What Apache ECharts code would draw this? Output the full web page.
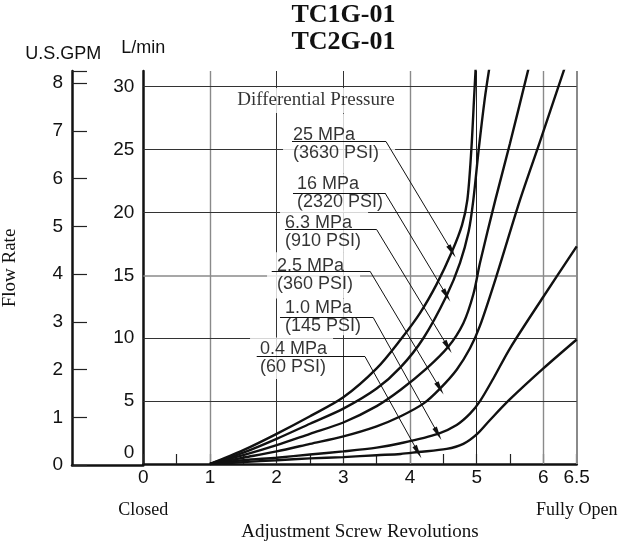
<!DOCTYPE html>
<html><head><meta charset="utf-8">
<script src="https://cdn.jsdelivr.net/npm/echarts@6/dist/echarts.min.js"></script>
<style>html,body{margin:0;padding:0;background:#fff}#c{width:621px;height:547px}</style>
</head><body><div id="c"></div>
<script>
// ---- data ----
const revTicks = [0, 1, 2, 3, 4, 5, 6, 6.5];          // Adjustment screw revolutions
const revEnds = ['Closed', 'Fully Open'];              // text under 0 and 6.5
const lminTicks = [0, 5, 10, 15, 20, 25, 30];          // L/min
const gpmTicks = [0, 1, 2, 3, 4, 5, 6, 7, 8];          // U.S.GPM
const pressureMPa = ['25 MPa', '16 MPa', '6.3 MPa', '2.5 MPa', '1.0 MPa', '0.4 MPa'];
const pressurePSI = ['(3630 PSI)', '(2320 PSI)', '(910 PSI)', '(360 PSI)', '(145 PSI)', '(60 PSI)'];

const flow25 = [[1,0],[1.5,1.1],[2,2.4],[2.5,3.8],[3,5.3],[3.5,7.6],[3.86,9.9],[4.15,12.0],[4.4,14.3],[4.63,16.9],[4.78,19.0],[4.86,21],[4.92,25],[4.96,29],[4.985,31.5]];
const flow16 = [[1,0],[1.5,0.9],[2,2.0],[2.5,3.2],[3,4.4],[3.5,6.0],[3.86,7.7],[4.2,10.0],[4.55,13.4],[4.75,16],[4.88,18.5],[4.95,21],[5.03,25],[5.12,29],[5.19,31.5]];
const flow6_3 = [[1,0],[1.5,0.7],[2,1.5],[2.5,2.4],[3,3.3],[3.5,4.6],[3.86,5.9],[4.25,7.6],[4.57,9.3],[4.8,11.2],[4.95,13.5],[5.05,16],[5.28,21],[5.5,25.5],[5.78,31.5]];
const flow2_5 = [[1,0],[1.5,0.5],[2,1.0],[2.5,1.6],[3,2.2],[3.5,3.0],[3.86,3.8],[4.2,4.8],[4.45,6.0],[4.7,7.5],[4.9,9.2],[5.05,11],[5.3,15],[5.65,21],[5.94,25.5],[6.32,31.5]];
const flow1_0 = [[1,0],[1.5,0.3],[2,0.5],[2.5,0.75],[3,1.0],[3.5,1.3],[3.86,1.65],[4.42,2.4],[4.7,3.1],[4.9,4.0],[5.05,5.0],[5.25,6.8],[5.5,9.2],[6.0,13.3],[6.5,17.3]];
const flow0_4 = [[1,0],[1.5,0.15],[2,0.3],[2.5,0.45],[3,0.55],[3.5,0.7],[3.86,0.8],[4.12,0.95],[4.55,1.2],[4.8,1.6],[5.0,2.35],[5.2,3.5],[5.5,5.15],[6.0,7.6],[6.5,9.9]];
const curves = [flow25, flow16, flow6_3, flow2_5, flow1_0, flow0_4];
const arrowTipIndex = [9, 8, 8, 8, 7, 7];   // point of each curve the label arrow points at

const LMIN_PER_GPM = 3.78541;
const Y_MAX = 31.25;

// ---- annotation layout (data units of the main grid) ----
const labelBoxes = [   // [left x, center y, padding]
  [2.095, 25.46, [8.7, 16, 15.3, 10]],
  [2.110, 21.56, [0, 5, 1.7, 13]],
  [2.050, 18.48, [0, 7, 6, 5]],
  [1.855, 15.00, [0, 7, 10.3, 10]],
  [2.035, 11.69, [0, 5, 0.7, 6]],
  [1.600, 8.41, [0, 6, 5.7, 10]]
];
const underlines = [   // [x1, x2, y]
  [2.230, 3.640, 25.64],
  [2.245, 3.625, 21.55],
  [2.125, 3.500, 18.64],
  [1.926, 3.400, 15.33],
  [2.050, 3.449, 11.64],
  [1.701, 3.325, 8.54]
];

const SANS = '"Liberation Sans", Arial, sans-serif';
const SERIF = '"Liberation Serif", "Times New Roman", serif';
const INK = '#111';

const gridX = [
  {v: 1, c: '#8a8a8a', w: 1.4}, {v: 2, c: '#333', w: 1}, {v: 3, c: '#333', w: 1},
  {v: 4, c: '#8a8a8a', w: 1.4}, {v: 5, c: '#222', w: 1}, {v: 6, c: '#8a8a8a', w: 1.4},
  {v: 6.5, c: '#8a8a8a', w: 2}
];
const gridY = lminTicks.filter(v => v > 0).map(v => ({v, c: v === 15 ? '#8a8a8a' : '#333', w: v === 15 ? 1.6 : 1}));

const chart = echarts.init(document.getElementById('c'), null, {renderer: 'canvas'});

const series = [];
series.push({
  type: 'scatter', xAxisIndex: 0, yAxisIndex: 0, z: 2, silent: true, animation: false,
  symbolSize: 0.1, itemStyle: {color: 'transparent'},
  data: labelBoxes.map((b, i) => ({
    value: [b[0], b[1]],
    label: {
      show: true, position: 'right', distance: 0,
      formatter: pressureMPa[i] + '\n' + pressurePSI[i],
      fontFamily: SANS, fontSize: 18, lineHeight: 18, color: '#000',
      backgroundColor: '#fff', padding: b[2], align: 'left'
    }
  })).concat([{
    value: [2.59, 28.91],
    label: {
      show: true, position: 'inside', formatter: 'Differential Pressure',
      fontFamily: SERIF, fontSize: 19, color: '#000', backgroundColor: '#fff', padding: [3, 4, 3, 4]
    }
  }]),
  markLine: {
    silent: true, z: 1, symbol: 'none', animation: false, label: {show: false},
    data: gridX.map(g => ({xAxis: g.v, lineStyle: {color: g.c, width: g.w, type: 'solid'}}))
      .concat(gridY.map(g => ({yAxis: g.v, lineStyle: {color: g.c, width: g.w, type: 'solid'}})))
  }
});

curves.forEach((pts, i) => {
  const u = underlines[i];
  const tip = pts[arrowTipIndex[i]];
  series.push({
    name: pressureMPa[i], type: 'line', xAxisIndex: 0, yAxisIndex: 0, z: 4,
    data: pts, showSymbol: false, symbol: 'none', smooth: 0.3,
    lineStyle: {color: INK, width: 2.4}, animation: false, silent: true, clip: true,
    markLine: {
      silent: true, z: 3, animation: false, label: {show: false},
      symbol: ['none', 'triangle'], symbolSize: [5, 14],
      lineStyle: {color: INK, width: 1, type: 'solid'},
      data: [
        [{coord: [u[0], u[2]], symbol: 'none'}, {coord: [u[1], u[2]], symbol: 'none'}],
        [{coord: [u[1], u[2]], symbol: 'none'}, {coord: tip, symbol: 'triangle'}]
      ]
    }
  });
});

const option = {
  backgroundColor: '#fff',
  animation: false,
  grid: [
    {left: 143.3, right: 44.3, top: 71, bottom: 82},
    {left: 68, width: 75.3, top: 71, bottom: 82}
  ],
  xAxis: [
    {
      gridIndex: 0, type: 'value', min: 0, max: 6.5, interval: 0.5, position: 'bottom',
      axisLine: {show: true, lineStyle: {color: INK, width: 2.5}},
      axisTick: {show: true, inside: true, length: 10, lineStyle: {color: '#222', width: 1.2}},
      splitLine: {show: false},
      axisLabel: {
        margin: 4, showMaxLabel: true, showMinLabel: true, hideOverlap: false,
        fontFamily: SANS, fontSize: 19, color: INK,
        formatter: v => revTicks.indexOf(v) >= 0 ? String(v) : ''
      },
      name: 'Adjustment Screw Revolutions', nameLocation: 'middle', nameGap: 59,
      nameTextStyle: {fontFamily: SERIF, fontSize: 19, color: INK}
    },
    {
      gridIndex: 1, type: 'value', min: 0, max: 1,
      axisLine: {show: true, lineStyle: {color: INK, width: 2.5}},
      axisTick: {show: false}, axisLabel: {show: false}, splitLine: {show: false}
    },
    {
      gridIndex: 0, type: 'value', min: 0, max: 6.5, interval: 6.5, position: 'bottom',
      axisLine: {show: false}, axisTick: {show: false}, splitLine: {show: false},
      axisLabel: {
        margin: 37, showMaxLabel: true, showMinLabel: true, hideOverlap: false,
        fontFamily: SERIF, fontSize: 18, color: INK,
        formatter: v => v === revTicks[0] ? revEnds[0] : (v === revTicks[revTicks.length - 1] ? revEnds[1] : '')
      }
    }
  ],
  yAxis: [
    {
      gridIndex: 0, type: 'value', min: 0, max: Y_MAX, interval: 5,
      axisLine: {show: true, lineStyle: {color: INK, width: 2.5}},
      axisTick: {show: false}, splitLine: {show: false},
      axisLabel: {
        margin: 9, fontFamily: SANS, fontSize: 19, color: INK,
        formatter: v => v === 0 ? '{z|0}' : String(v),
        rich: {z: {fontFamily: SANS, fontSize: 19, color: INK, padding: [0, 0, 23, 0]}}
      },
      name: 'L/min', nameLocation: 'end', nameGap: 14,
      nameTextStyle: {fontFamily: SANS, fontSize: 18, color: INK, align: 'center'}
    },
    {
      gridIndex: 1, type: 'value', min: 0, max: Y_MAX / LMIN_PER_GPM, interval: 1,
      axisLine: {show: true, lineStyle: {color: INK, width: 2.5}},
      axisTick: {show: true, inside: true, length: 15, lineStyle: {color: '#222', width: 1.2}},
      splitLine: {show: false},
      axisLabel: {
        margin: 9, fontFamily: SANS, fontSize: 19, color: INK,
        formatter: v => gpmTicks.indexOf(v) >= 0 ? String(v) : ''
      },
      name: 'Flow Rate', nameLocation: 'middle', nameGap: 52, nameRotate: 90,
      nameTextStyle: {fontFamily: SERIF, fontSize: 19, color: INK}
    }
  ],
  graphic: [
    {type: 'text', x: 343.5, y: 2.5, style: {text: 'TC1G-01\nTC2G-01', align: 'center', verticalAlign: 'top',
      fontFamily: SERIF, fontWeight: 'bold', fontSize: 26, lineHeight: 26.5, fill: INK}},
    {type: 'text', x: 63.3, y: 54, style: {text: 'U.S.GPM', align: 'center', verticalAlign: 'middle',
      fontFamily: SANS, fontSize: 18, fill: INK}}
  ],
  series: series
};
chart.setOption(option);
</script>
</body></html>
